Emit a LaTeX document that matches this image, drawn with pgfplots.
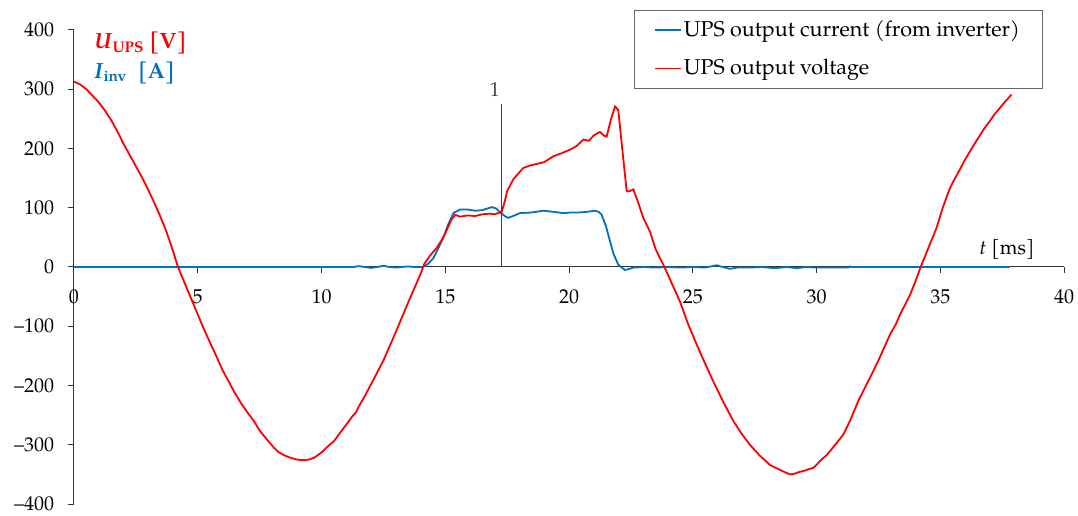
\documentclass[border=0pt]{standalone}
\usepackage{fontspec}
\setmainfont{TeX Gyre Pagella}
\usepackage{pgfplots}
\pgfplotsset{compat=1.18}
\definecolor{upsred}{RGB}{255,0,0}
\definecolor{upsblue}{RGB}{0,112,192}
\begin{document}
\fontsize{20}{24}\selectfont
\begin{tikzpicture}
\useasboundingbox (-74pt,-12pt) rectangle (1004pt,504pt);
\begin{axis}[
 at={(0,0)}, anchor=south west,
 scale only axis, width=990pt, height=474pt,
 xmin=0, xmax=40, ymin=-400, ymax=400,
 axis x line=middle, axis y line=left,
 axis line style={-, line width=1pt, black!80},
 hide obscured x ticks=false, hide obscured y ticks=false,
 xtick={0,5,...,40}, ytick={-400,-300,...,400},
 yticklabels={–400,–300,–200,–100,0,100,200,300,400},
 xticklabels={0,5,10,15,20,25,30,35,40},
 tick style={line width=1pt, black!80},
 tick align=outside,
 major tick length=6pt,
 xticklabel style={yshift=-10pt},
 yticklabel style={xshift=-7pt},
 clip=false,
 legend style={at={(0.978,1.042)}, anchor=north east, draw=black!60,
   row sep=16pt, inner xsep=20pt, inner ysep=8pt, font=\fontsize{21.5}{25}\selectfont},
 legend cell align=left,
 legend image code/.code={\draw[#1] (0pt,0pt) -- (26pt,0pt);},
]
\addlegendimage{upsblue, line width=1.8pt}
\addlegendentry{UPS output current (from inverter)}
\addlegendimage{upsred, line width=1.8pt}
\addlegendentry{UPS output voltage}
\addplot[upsblue, line width=1.8pt, forget plot] coordinates {
(0,0) (11.3,0) (11.5,1.5) (11.75,0) (12.0,-1.5) (12.25,0) (12.5,2) (12.75,0) (13.0,-1) (13.25,0) (13.5,1) (13.75,0) (14.1,0)
(14.3,5) (14.52,15) (14.7,30) (14.92,49) (15.1,70) (15.33,91) (15.6,97) (15.9,97) (16.2,95) (16.5,96) (16.87,101) (17.05,99)
(17.21,93) (17.4,86) (17.55,83) (17.8,87) (18.02,91) (18.5,92) (18.96,95) (19.4,93) (19.77,91) (20.1,92) (20.4,92) (20.7,93)
(21.05,95) (21.2,93) (21.32,88) (21.5,68) (21.66,43) (21.8,22) (21.99,4) (22.26,-5) (22.45,-3) (22.6,-1) (23.0,0)
(23.5,-1) (24.0,0) (24.5,-1) (25.0,0) (25.5,-1) (25.97,3) (26.2,0) (26.5,-3) (26.8,-1) (27.3,-1) (27.8,0) (28.3,-2) (28.8,0)
(29.2,-2) (29.6,0) (30.0,-1) (30.5,-1) (31.0,-1) (31.3,-1) (31.35,1) (31.4,0) (37.8,0)
};
\addplot[upsred, line width=1.8pt, forget plot] coordinates {
(0.0,313) (0.25,308) (0.5,300) (0.75,289) (1.0,278) (1.25,264) (1.5,248) (1.75,229) (2.0,208) (2.25,189) (2.5,170)
(2.75,151) (3.0,130) (3.25,108) (3.5,84) (3.75,58) (4.0,27) (4.2,0) (4.5,-30) (4.75,-55) (5.0,-80) (5.25,-105) (5.5,-128)
(5.79,-154) (6.0,-174) (6.25,-193) (6.46,-210) (6.75,-230) (7.0,-245) (7.27,-260) (7.5,-276) (7.75,-289) (8.08,-305)
(8.25,-312) (8.5,-318) (8.75,-322) (9.0,-325) (9.25,-326) (9.5,-325) (9.7,-322) (10.0,-313) (10.25,-303) (10.5,-294)
(10.75,-280) (11.0,-266) (11.25,-252) (11.4,-245) (11.5,-236) (11.75,-218) (12.0,-198) (12.25,-178) (12.5,-158)
(12.75,-134) (13.0,-110) (13.25,-85) (13.5,-60) (13.75,-36) (14.0,-12) (14.15,5) (14.4,20) (14.65,32)
(14.85,45) (15.06,62) (15.25,80) (15.4,88) (15.6,85) (15.9,87) (16.2,86) (16.5,89) (16.8,90) (17.0,89) (17.28,93) (17.4,110)
(17.5,128) (17.75,148) (18.0,160) (18.15,167) (18.4,171) (18.7,174) (19.0,177) (19.37,187) (19.7,192) (20.04,198) (20.3,204)
(20.58,215) (20.8,213) (21.0,222) (21.25,228) (21.4,222) (21.52,220) (21.7,250) (21.86,271) (21.99,265) (22.15,200) (22.33,128)
(22.45,128) (22.6,131) (22.8,108) (23.0,83) (23.27,60) (23.5,30) (23.88,-2) (24.2,-32) (24.48,-58) (24.8,-95) (25.16,-131)
(25.5,-163) (25.83,-193) (26.2,-225) (26.64,-260) (27.0,-283) (27.31,-300) (27.7,-318) (28.12,-334) (28.5,-342) (28.7,-346)
(28.93,-350) (29.1,-349) (29.3,-346) (29.5,-344) (29.7,-341) (29.87,-339) (30.0,-334) (30.2,-325) (30.4,-318) (30.6,-308)
(31.08,-283) (31.35,-260) (31.7,-225) (32.16,-187) (32.5,-158) (32.97,-114) (33.2,-97) (33.4,-78) (33.6,-62) (33.78,-47)
(34.0,-24) (34.21,0) (34.5,30) (34.85,66) (35.1,100) (35.39,133) (35.6,150) (35.8,165) (36.0,181) (36.2,195) (36.4,209)
(36.6,222) (36.8,235) (37.0,246) (37.2,258) (37.4,268) (37.6,278) (37.88,291)
};
\addplot[black!75, line width=1pt, forget plot] coordinates {(17.29,0) (17.29,275)}
  node[pos=1, above, xshift=-7pt] {1};
\node[anchor=west, text=upsred, font=\fontsize{22}{26}\selectfont\bfseries] at (axis cs:0.55,378)
  {\textit{U}\textsubscript{UPS} [V]};
\node[anchor=west, text=upsblue, font=\fontsize{22}{26}\selectfont\bfseries] at (axis cs:0.55,327)
  {\textit{I}\textsubscript{inv}\ \ [A]};
\node at (axis cs:37.7,29) {\textit{t} [ms]};
\end{axis}
\end{tikzpicture}
\end{document}
